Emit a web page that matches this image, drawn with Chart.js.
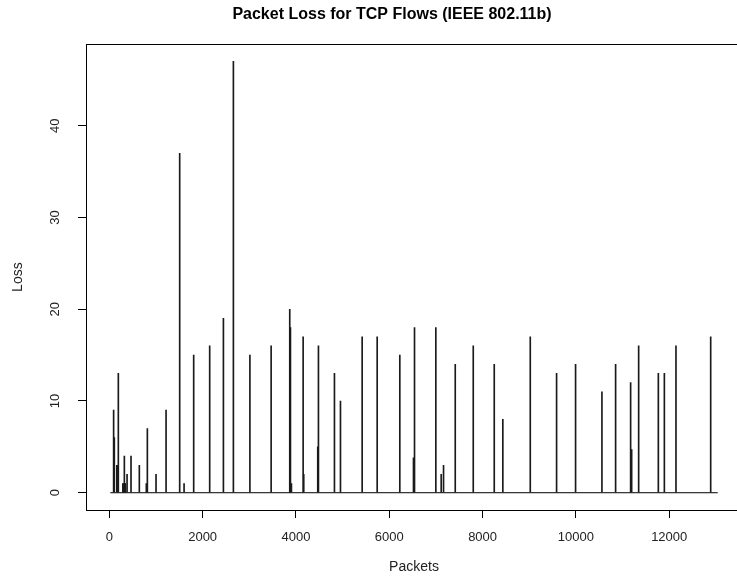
<!DOCTYPE html>
<html>
<head>
<meta charset="utf-8">
<script src="https://cdn.jsdelivr.net/npm/chart.js@4/dist/chart.umd.min.js"></script>
<style>
  html, body { margin: 0; padding: 0; background: #fff; width: 737px; height: 582px; overflow: hidden; }
  #wrap { width: 744px; height: 582px; }
</style>
</head>
<body>
<div id="wrap"><canvas id="c" width="744" height="582"></canvas></div>
<script>
// ---- data ----
const packets = [92, 107, 160, 175, 193, 290, 305, 322, 335, 343, 380, 465, 643, 793, 815, 1001, 1216,
  1508, 1602, 1808, 2151, 2445, 2659, 3013, 3468, 3867, 3882, 3903, 4154, 4167, 4467, 4482,
  4825, 4954, 5419, 5741, 6226, 6519, 6541, 6998, 7113, 7163, 7414, 7800, 8250, 8434, 9022,
  9586, 9993, 10558, 10851, 11173, 11195, 11345, 11767, 11896, 12145, 12889];
const loss = [9, 6, 3, 3, 13, 1, 1, 4, 1, 1, 2, 4, 3, 1, 7, 2, 9,
  37, 1, 15, 16, 19, 47, 15, 16, 20, 18, 1, 17, 2, 5, 16,
  13, 10, 17, 17, 15, 3.8, 18, 18, 2, 3, 14, 16, 14, 8, 17,
  13, 14, 11, 14, 12, 4.7, 16, 13, 13, 16, 17];
const baselinePackets = [21, 13040];
const xTicks = [0, 2000, 4000, 6000, 8000, 10000, 12000];
const yTicks = [0, 10, 20, 30, 40];
const xRange = [-500, 13560];
const yRange = [-1.88, 48.88];
const titleText = 'Packet Loss for TCP Flows (IEEE 802.11b)';
const xLabel = 'Packets';
const yLabel = 'Loss';

const FONT = "'Liberation Sans', Arial, sans-serif";
const TITLE_CENTER_X = 392;

const boxPlugin = {
  id: 'rbox',
  afterLayout(chart) {
    const t = chart.titleBlock;
    if (t) {
      const w = t.right - t.left;
      t.left = TITLE_CENTER_X - w / 2;
      t.right = TITLE_CENTER_X + w / 2;
    }
  },
  afterDraw(chart) {
    const a = chart.chartArea, ctx = chart.ctx;
    ctx.save();
    ctx.strokeStyle = '#000';
    ctx.lineWidth = 1;
    ctx.strokeRect(Math.round(a.left) + 0.5, Math.round(a.top) + 0.5,
      Math.round(a.right - a.left), Math.round(a.bottom - a.top));
    ctx.restore();
  }
};

new Chart(document.getElementById('c'), {
  type: 'bar',
  data: {
    datasets: [
      {
        type: 'bar',
        data: packets.map((p, i) => ({ x: p, y: loss[i] })),
        backgroundColor: '#1a1a1a',
        borderWidth: 0,
        barThickness: 1,
        grouped: false
      },
      {
        type: 'line',
        data: baselinePackets.map(p => ({ x: p, y: 0 })),
        borderColor: '#000',
        borderWidth: 1,
        pointRadius: 0,
        fill: false
      }
    ]
  },
  options: {
    responsive: false,
    animation: false,
    devicePixelRatio: 1,
    layout: { padding: { left: 0, right: 2, top: 0, bottom: 0 } },
    plugins: {
      legend: { display: false },
      tooltip: { enabled: false },
      title: {
        display: true,
        text: titleText,
        fullSize: false,
        color: '#000',
        font: { family: FONT, size: 16, weight: 'bold' },
        padding: { top: 5, bottom: 20 }
      }
    },
    scales: {
      x: {
        type: 'linear',
        min: xRange[0],
        max: xRange[1],
        offset: false,
        afterBuildTicks: s => { s.ticks = xTicks.map(v => ({ value: v })); },
        afterFit: s => { s.height = 72; },
        border: { display: false },
        grid: { display: true, offset: false, drawOnChartArea: false, drawTicks: true, tickLength: 8, tickColor: '#000', color: '#000' },
        ticks: { color: '#222', font: { family: FONT, size: 13 }, padding: 12, maxRotation: 0, minRotation: 0, autoSkip: false, callback: v => String(v) },
        title: { display: true, text: xLabel, color: '#222', font: { family: FONT, size: 14 }, padding: { top: 0, bottom: 6 } }
      },
      y: {
        type: 'linear',
        min: yRange[0],
        max: yRange[1],
        afterBuildTicks: s => { s.ticks = yTicks.map(v => ({ value: v })); },
        afterFit: s => { s.width = 86; },
        border: { display: false },
        grid: { display: true, drawOnChartArea: false, drawTicks: true, tickLength: 8, tickColor: '#000', color: '#000' },
        ticks: { color: '#222', font: { family: FONT, size: 13 }, padding: 15, minRotation: 90, maxRotation: 90, crossAlign: 'center', autoSkip: false, callback: v => String(v) },
        title: { display: true, text: yLabel, color: '#222', font: { family: FONT, size: 14 }, padding: { top: 10, bottom: 0 } }
      }
    }
  },
  plugins: [boxPlugin]
});
</script>
</body>
</html>
